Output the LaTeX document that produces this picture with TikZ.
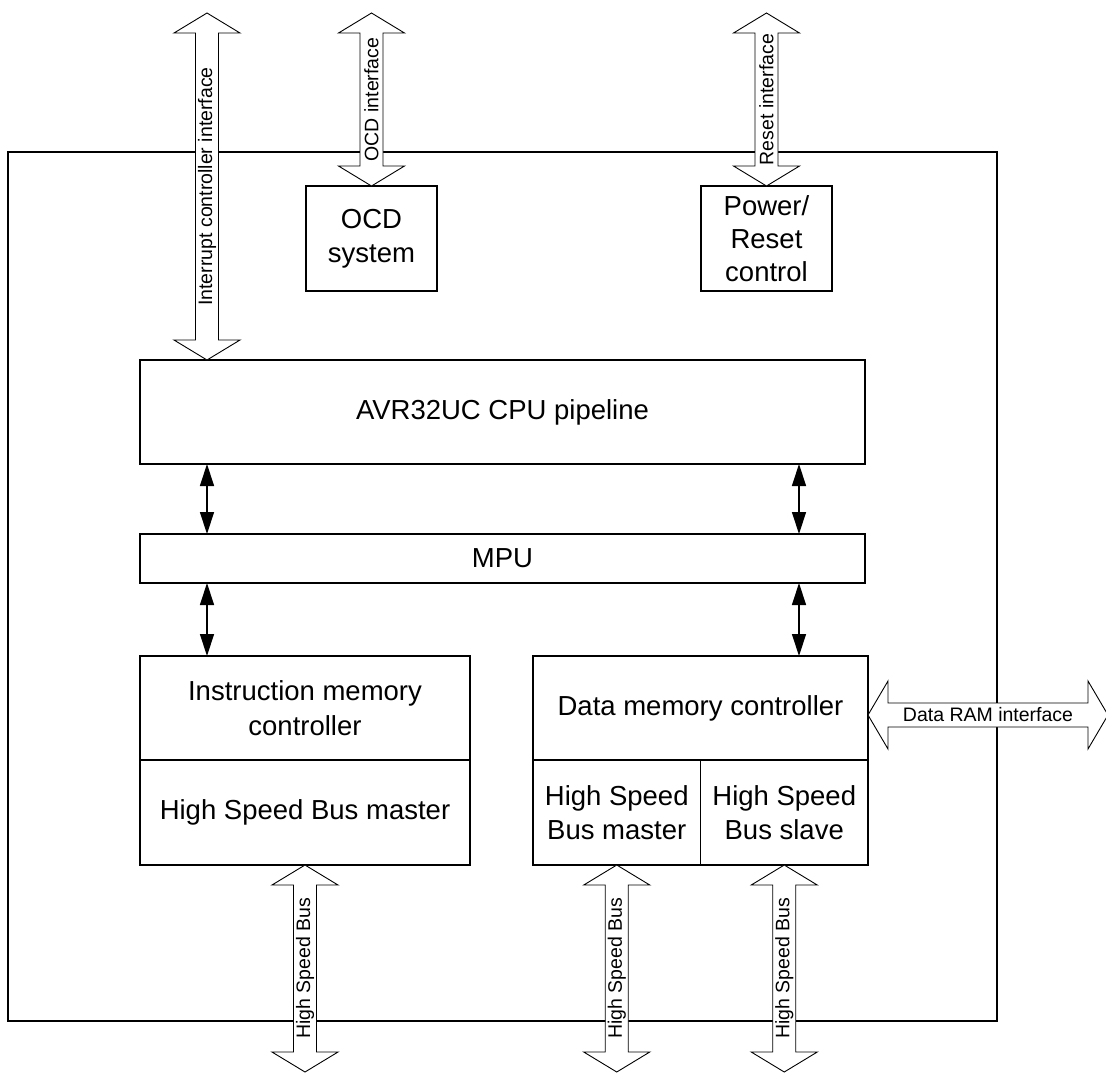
\documentclass[tikz,border=0pt]{standalone}
\usepackage{fontspec}
\setmainfont{Liberation Sans}
\usetikzlibrary{arrows.meta,calc}

\newcommand\vbus[2]{% #1 top tip, #2 bottom tip
  \draw[busshape] (#1) -- ($(#1)+(33,20)$) -- ($(#1)+(11.5,20)$) -- ($(#2)+(11.5,-20)$) -- ($(#2)+(33,-20)$) -- (#2)
    -- ($(#2)+(-33,-20)$) -- ($(#2)+(-11.5,-20)$) -- ($(#1)+(-11.5,20)$) -- ($(#1)+(-33,20)$) -- cycle;}
\newcommand\hbus[2]{% #1 left tip, #2 right tip
  \draw[busshape] (#1) -- ($(#1)+(20,-34)$) -- ($(#1)+(20,-12)$) -- ($(#2)+(-20,-12)$) -- ($(#2)+(-20,-34)$) -- (#2)
    -- ($(#2)+(-20,34)$) -- ($(#2)+(-20,12)$) -- ($(#1)+(20,12)$) -- ($(#1)+(20,34)$) -- cycle;}

\begin{document}
\begin{tikzpicture}[x=1pt,y=-1pt,
  box/.style={draw, line width=1.3pt, inner sep=0pt, outer sep=0pt, align=center,
    font=\fontsize{27.5}{34.5}\selectfont},
  frame/.style={draw, line width=1.6pt, inner sep=0pt, outer sep=0pt},
  busshape/.style={draw, fill=white, line width=0.9pt, line join=miter},
  buslabel/.style={inner sep=0pt, font=\fontsize{19.5}{22}\selectfont},
  dbl/.style={{Triangle[length=22pt,width=14pt]}-{Triangle[length=22pt,width=14pt]}, line width=1.3pt}]

\useasboundingbox (0,0) rectangle (1106,1072);

% outer frame
\node[frame, minimum width=989pt, minimum height=869pt, anchor=north west] (outer) at (8,152) {};

% blocks
\node[box, minimum width=131pt, minimum height=105pt] (ocd) at (371.5,238.5) {OCD\\system};
\node[box, minimum width=131pt, minimum height=105pt, font=\fontsize{27.5}{33}\selectfont] (pwr) at (766.5,238.5) {Power/\\Reset\\control};
\node[box, minimum width=725pt, minimum height=104pt] (cpu) at (502.5,412) {AVR32UC CPU pipeline};
\node[box, minimum width=725pt, minimum height=49pt] (mpu) at (502.5,558.5) {MPU};
\node[box, minimum width=330pt, minimum height=104pt] (imc) at (305,708) {Instruction memory\\controller};
\node[box, minimum width=330pt, minimum height=105pt] (ihs) at (305,812.5) {High Speed Bus master};
\node[box, minimum width=335pt, minimum height=104pt] (dmc) at (700.5,708) {Data memory controller};
\node[box, minimum width=167.5pt, minimum height=105pt] (dhm) at (616.75,812.5) {High Speed\\Bus master};
\node[box, minimum width=167.5pt, minimum height=105pt] (dhs) at (784.25,812.5) {High Speed\\Bus slave};

% small bidirectional arrows
\coordinate (lx) at (207,0);
\coordinate (rx) at (799,0);
\draw[dbl] (lx |- cpu.south) -- (lx |- mpu.north);
\draw[dbl] (rx |- cpu.south) -- (rx |- mpu.north);
\draw[dbl] (lx |- mpu.south) -- (lx |- imc.north);
\draw[dbl] (rx |- mpu.south) -- (rx |- dmc.north);

% top interfaces
\coordinate (icT) at (207,13);
\coordinate (icB) at (icT |- cpu.north);
\vbus{icT}{icB}
\node[buslabel, rotate=90] at ($(icT)!0.5!(icB)$) {Interrupt controller interface};

\coordinate (ocdT) at (ocd.north |- icT);
\coordinate (ocdB) at (ocd.north);
\vbus{ocdT}{ocdB}
\node[buslabel, rotate=90] at ($(ocdT)!0.5!(ocdB)$) {OCD interface};

\coordinate (rstT) at (pwr.north |- icT);
\coordinate (rstB) at (pwr.north);
\vbus{rstT}{rstB}
\node[buslabel, rotate=90] at ($(rstT)!0.5!(rstB)$) {Reset interface};

% data RAM interface
\coordinate (ramL) at (868,715);
\coordinate (ramR) at (1108,715);
\hbus{ramL}{ramR}
\node[buslabel] at ($(ramL)!0.5!(ramR)$) {Data RAM interface};

% bottom high speed buses
\coordinate (b1T) at (ihs.south);
\coordinate (b1B) at (b1T |- 0,1072);
\vbus{b1T}{b1B}
\node[buslabel, rotate=90] at ($(b1T)!0.5!(b1B)$) {High Speed Bus};

\coordinate (b2T) at (dhm.south);
\coordinate (b2B) at (b2T |- 0,1072);
\vbus{b2T}{b2B}
\node[buslabel, rotate=90] at ($(b2T)!0.5!(b2B)$) {High Speed Bus};

\coordinate (b3T) at (dhs.south);
\coordinate (b3B) at (b3T |- 0,1072);
\vbus{b3T}{b3B}
\node[buslabel, rotate=90] at ($(b3T)!0.5!(b3B)$) {High Speed Bus};

\end{tikzpicture}
\end{document}
